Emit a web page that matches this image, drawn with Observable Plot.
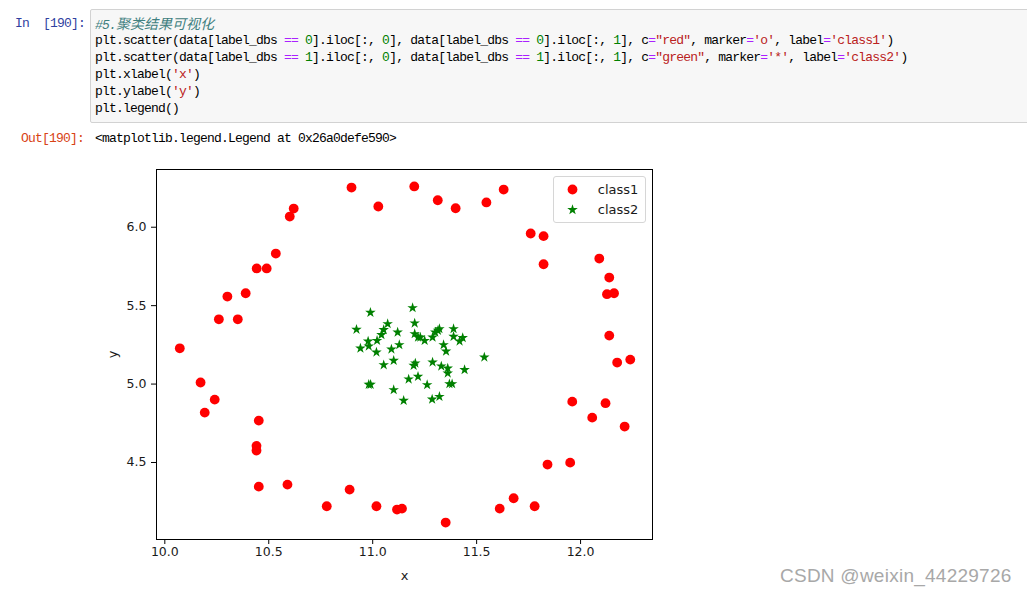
<!DOCTYPE html>
<html>
<head>
<meta charset="utf-8">
<script src="https://cdn.jsdelivr.net/npm/d3@7"></script>
<script src="https://cdn.jsdelivr.net/npm/@observablehq/plot@0.6"></script>
<style>
  html, body { margin: 0; padding: 0; background: #fff; }
  #page { position: relative; width: 1027px; height: 595px; overflow: hidden; background: #fff; }
  .mono { font-family: "Liberation Mono", "DejaVu Sans Mono", monospace; font-size: 13px; letter-spacing: -0.8px; }
  .prompt { position: absolute; line-height: 17px; height: 17px; white-space: pre; }
  .in { color: #303f9f; left: 15px; top: 14.5px; }
  .out { color: #d84315; left: 21px; top: 129.5px; }
  .cell { position: absolute; left: 90px; top: 9px; width: 960px; height: 114px; box-sizing: border-box;
          background: #f7f7f7; border: 1px solid #d2d2d2; border-radius: 2px; padding: 4.5px 0 0 4px; white-space: normal; }
  .line { height: 17px; line-height: 17px; color: #000; white-space: pre; }
  .c { color: #408080; font-style: italic; }
  .cjk { font-family: "Noto Sans CJK SC", sans-serif; font-size: 14px; letter-spacing: 0; }
  .o { color: #aa22ff; }
  .n { color: #008000; }
  .s { color: #ba2121; }
  .outtext { position: absolute; left: 95px; top: 129.5px; line-height: 17px; color: #000; white-space: pre; }
  #legendbox { position: absolute; left: 553px; top: 176px; width: 93px; height: 47px; box-sizing: border-box;
               border: 1px solid #d6d6d6; border-radius: 3px; background: #fff; }
  #chart { position: absolute; left: 0; top: 150px; }
  #wm { position: absolute; left: 780px; top: 564px; font-family: "Liberation Sans", Arial, sans-serif;
        font-size: 19px; letter-spacing: 0.25px; color: #a8a8a8; line-height: 24px; white-space: nowrap; }
</style>
</head>
<body>
<div id="page">
  <div class="prompt in mono">In  [190]:</div>
  <div class="cell mono"><div class="line"><span class="c">#5.<span class="cjk">聚类结果可视化</span></span></div><div class="line">plt.scatter(data[label_dbs <span class="o">==</span> <span class="n">0</span>].iloc[:, <span class="n">0</span>], data[label_dbs <span class="o">==</span> <span class="n">0</span>].iloc[:, <span class="n">1</span>], c<span class="o">=</span><span class="s">"red"</span>, marker<span class="o">=</span><span class="s">'o'</span>, label<span class="o">=</span><span class="s">'class1'</span>)</div><div class="line">plt.scatter(data[label_dbs <span class="o">==</span> <span class="n">1</span>].iloc[:, <span class="n">0</span>], data[label_dbs <span class="o">==</span> <span class="n">1</span>].iloc[:, <span class="n">1</span>], c<span class="o">=</span><span class="s">"green"</span>, marker<span class="o">=</span><span class="s">'*'</span>, label<span class="o">=</span><span class="s">'class2'</span>)</div><div class="line">plt.xlabel(<span class="s">'x'</span>)</div><div class="line">plt.ylabel(<span class="s">'y'</span>)</div><div class="line">plt.legend()</div></div>
  <div class="prompt out mono">Out[190]:</div>
  <div class="outtext mono">&lt;matplotlib.legend.Legend at 0x26a0defe590&gt;</div>
  <div id="legendbox"></div>
  <div id="chart"></div>
  <div id="wm">CSDN @weixin_44229726</div>
</div>
<script>
// ---- data ----
const class1X = [10.898,11.200,11.027,11.313,11.399,11.547,11.630,10.620,10.601,10.534,10.442,10.490,10.389,10.301,10.260,10.351,10.072,10.172,10.240,10.192,10.452,10.441,10.441,10.452,10.590,10.779,10.889,11.018,11.117,11.141,11.351,11.611,11.678,11.779,11.841,11.950,11.960,12.056,12.120,12.212,12.176,12.239,12.138,12.138,12.127,12.161,12.090,11.822,11.760,11.822];
const class1Y = [6.253,6.260,6.132,6.172,6.121,6.158,6.240,6.119,6.068,5.832,5.737,5.737,5.579,5.558,5.413,5.413,5.228,5.010,4.901,4.818,4.767,4.606,4.576,4.346,4.359,4.221,4.327,4.221,4.200,4.206,4.117,4.206,4.272,4.221,4.487,4.499,4.888,4.786,4.878,4.729,5.137,5.156,5.309,5.679,5.573,5.579,5.800,5.764,5.960,5.943];
const class2X = [10.989,11.192,10.922,11.072,11.053,11.042,11.120,11.202,11.202,11.218,11.021,10.978,10.981,10.941,11.018,11.090,11.128,11.101,11.053,11.205,11.197,11.218,11.173,10.981,10.990,11.101,11.149,11.250,11.288,11.301,11.314,11.321,11.389,11.389,11.433,11.418,11.341,11.353,11.537,11.288,11.330,11.361,11.361,11.442,11.262,11.369,11.382,11.286,11.321,11.229];
const class2Y = [5.456,5.486,5.348,5.384,5.346,5.314,5.330,5.388,5.320,5.298,5.277,5.273,5.241,5.228,5.203,5.222,5.250,5.150,5.122,5.133,5.118,5.048,5.031,4.997,4.997,4.963,4.895,5.277,5.298,5.330,5.341,5.352,5.352,5.303,5.295,5.273,5.250,5.209,5.171,5.139,5.114,5.101,5.069,5.091,4.995,5.001,5.001,4.903,4.920,5.298];
const xTicks = [10.0, 10.5, 11.0, 11.5, 12.0];
const yTicks = [4.5, 5.0, 5.5, 6.0];
const xDomain = [9.960, 12.346];
const yDomain = [4.009, 6.368];
const legendLabels = ["class1", "class2"];
const seriesColors = ["red", "green"];
const axisLabels = ["x", "y"];

const class1 = class1X.map((x, i) => ({x, y: class1Y[i]}));
const class2 = class2X.map((x, i) => ({x, y: class2Y[i]}));

const fmt = d3.format(".1f");
const txt = "#1a1a1a";
const starR = 3.3;

const chart = Plot.plot({
  width: 700,
  height: 445,
  marginLeft: 156,
  marginRight: 48,
  marginTop: 19,
  marginBottom: 56,
  style: {background: "transparent", fontFamily: "DejaVu Sans, sans-serif", fontSize: "12.5px", color: txt, overflow: "visible"},
  x: {domain: xDomain, label: null},
  y: {domain: yDomain, label: null},
  marks: [
    Plot.dot(class1, {x: "x", y: "y", r: 4.9, fill: seriesColors[0]}),
    Plot.dot(class2, {x: "x", y: "y", r: starR, symbol: "star", fill: seriesColors[1]}),
    Plot.axisX({ticks: xTicks, tickFormat: fmt, tickSize: 5, tickPadding: 3, label: null, stroke: "#000"}),
    Plot.axisY({ticks: yTicks, tickFormat: fmt, tickSize: 5, tickPadding: 5, label: null, stroke: "#000"}),
    Plot.frame({stroke: "#000", strokeWidth: 1}),
    Plot.text([axisLabels[0]], {text: d => d, frameAnchor: "bottom", dy: 36, lineAnchor: "middle", textAnchor: "middle", fontSize: 13, fill: txt}),
    Plot.text([axisLabels[1]], {text: d => d, frameAnchor: "left", dx: -44, rotate: -90, lineAnchor: "middle", textAnchor: "middle", fontSize: 13, fill: txt}),
    Plot.dot([legendLabels[0]], {frameAnchor: "top-right", dx: -80, dy: 20, r: 4.9, fill: seriesColors[0]}),
    Plot.dot([legendLabels[1]], {frameAnchor: "top-right", dx: -80, dy: 40.3, r: starR, symbol: "star", fill: seriesColors[1]}),
    Plot.text([legendLabels[0]], {text: d => d, frameAnchor: "top-right", dx: -54.7, dy: 20, textAnchor: "start", lineAnchor: "middle", fontSize: 13, fill: txt}),
    Plot.text([legendLabels[1]], {text: d => d, frameAnchor: "top-right", dx: -54.7, dy: 40.3, textAnchor: "start", lineAnchor: "middle", fontSize: 13, fill: txt})
  ]
});
document.getElementById("chart").appendChild(chart);
</script>
</body>
</html>
